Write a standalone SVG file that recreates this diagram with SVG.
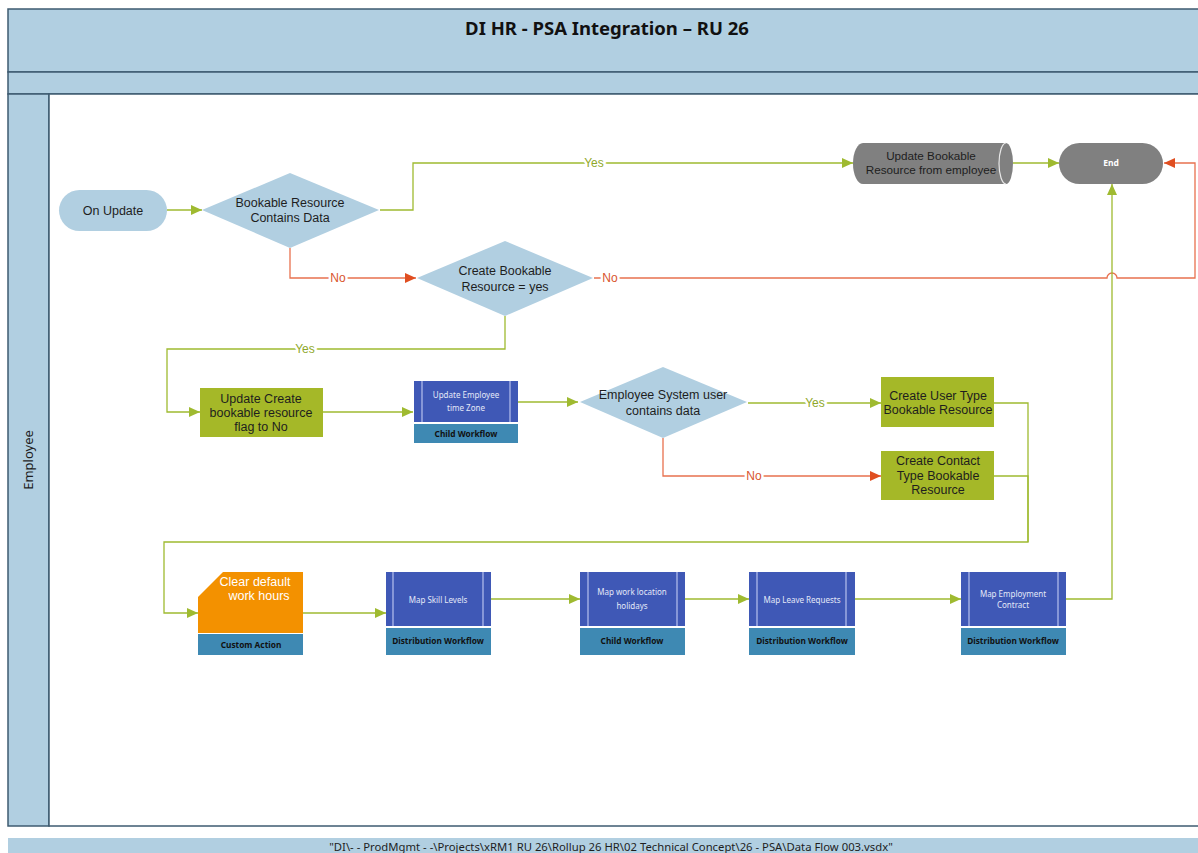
<svg xmlns="http://www.w3.org/2000/svg" width="1198" height="853" viewBox="0 0 1198 853">
<style>
.band{fill:#b1cfe1;stroke:#3e5b70;stroke-width:1.5}
.t{font-family:"Liberation Sans",Arial,sans-serif;font-size:12.5px;fill:#1e1e1e;text-anchor:middle}
.ts{font-family:"Noto Sans","Open Sans",sans-serif;font-size:8px;fill:#e4e8f8;text-anchor:middle}
.tl{font-family:"Noto Sans","Open Sans",sans-serif;font-size:8.3px;font-weight:bold;fill:#111;text-anchor:middle}
.lb{fill:#b1cfe1}
.grn{fill:#a5b828}
.wf{fill:#3f58b6}
.wfl{stroke:#b8c2ee;stroke-width:1.2}
.cap{fill:#3e89b3}
.cg{fill:none;stroke:#9fba30;stroke-width:1.3}
.cr{fill:none;stroke:#e8714f;stroke-width:1.3}
.lg{font-family:"Liberation Sans",Arial,sans-serif;font-size:12px;fill:#8fa82a;text-anchor:middle;paint-order:stroke;stroke:#fff;stroke-width:5px}
.lr{font-family:"Liberation Sans",Arial,sans-serif;font-size:12px;fill:#d9542c;text-anchor:middle;paint-order:stroke;stroke:#fff;stroke-width:5px}
</style>
<defs>
<marker id="ag" markerUnits="userSpaceOnUse" markerWidth="11" markerHeight="10" refX="11" refY="5" orient="auto"><path d="M0,0 L11,5 L0,10 z" fill="#9fba30"/></marker>
<marker id="ar" markerUnits="userSpaceOnUse" markerWidth="11" markerHeight="10" refX="11" refY="5" orient="auto"><path d="M0,0 L11,5 L0,10 z" fill="#e04e20"/></marker>
</defs>

<!-- pool / bands -->
<g id="pool">
<rect class="band" x="8" y="9" width="1196" height="63"/>
<rect class="band" x="8" y="72" width="1196" height="22"/>
<rect class="band" x="8" y="94" width="41" height="732"/>
<rect x="49" y="94" width="1155" height="732" fill="#fff" stroke="#3e5b70" stroke-width="1.5"/>
<rect x="8" y="838" width="1196" height="20" fill="#b1cfe1"/>
<text x="607" y="35" font-family="'Noto Sans','Open Sans',sans-serif" font-size="18.5px" font-weight="bold" fill="#111" text-anchor="middle">DI HR - PSA Integration – RU 26</text>
<text transform="translate(33,460) rotate(-90)" font-family="'Noto Sans','Open Sans',sans-serif" font-size="13px" fill="#1e1e1e" text-anchor="middle">Employee</text>
<text x="611" y="851" font-family="'Noto Sans','Open Sans',sans-serif" font-size="11.3px" fill="#1e1e1e" text-anchor="middle">"DI\- - ProdMgmt - -\Projects\xRM1 RU 26\Rollup 26 HR\02 Technical Concept\26 - PSA\Data Flow 003.vsdx"</text>
</g>

<!-- connectors -->
<g id="connectors">
<path class="cg" d="M167 210 H202" marker-end="url(#ag)"/>
<path class="cg" d="M380 210 H413 V163 H853" marker-end="url(#ag)"/>
<path class="cg" d="M1013 163 H1059" marker-end="url(#ag)"/>
<path class="cr" d="M290 248 V278 H416" marker-end="url(#ar)"/>
<path class="cr" d="M594 278 H1107 A5 5 0 0 1 1117 278 H1195 V163 H1164" marker-end="url(#ar)"/>
<path class="cg" d="M505 316 V349 H167 V412 H200" marker-end="url(#ag)"/>
<path class="cg" d="M323 412 H413" marker-end="url(#ag)"/>
<path class="cg" d="M518 402 H578" marker-end="url(#ag)"/>
<path class="cg" d="M748 403 H881" marker-end="url(#ag)"/>
<path class="cr" d="M663 438 V476 H881" marker-end="url(#ar)"/>
<path class="cg" d="M994 403 H1028 V542"/>
<path class="cg" d="M994 476 H1028 V542 H164 V613 H198" marker-end="url(#ag)"/>
<path class="cg" d="M303 613 H386" marker-end="url(#ag)"/>
<path class="cg" d="M491 599 H580" marker-end="url(#ag)"/>
<path class="cg" d="M685 599 H749" marker-end="url(#ag)"/>
<path class="cg" d="M855 599 H961" marker-end="url(#ag)"/>
<path class="cg" d="M1066 599 H1112 V184" marker-end="url(#ag)"/>
<text class="lg" x="594" y="167">Yes</text>
<text class="lr" x="338" y="282">No</text>
<text class="lr" x="610" y="282">No</text>
<text class="lg" x="305" y="353">Yes</text>
<text class="lg" x="815" y="407">Yes</text>
<text class="lr" x="754" y="480">No</text>
</g>

<g id="on-update">
<rect class="lb" x="59" y="190" width="108" height="41" rx="20.5"/>
<text class="t" x="113" y="215">On Update</text>
</g>

<g id="d-contains">
<polygon class="lb" points="202,210 290,173 379,210 290,248"/>
<text class="t" x="290" y="207">Bookable Resource</text>
<text class="t" x="290" y="222">Contains Data</text>
</g>

<g id="d-create">
<polygon class="lb" points="417,278 505,241 593,278 505,316"/>
<text class="t" x="505" y="275">Create Bookable</text>
<text class="t" x="505" y="291">Resource = yes</text>
</g>

<g id="update-br">
<path d="M863 143 H1006 A7 20.5 0 0 1 1006 184 H863 A10 20.5 0 0 1 863 143 Z" fill="#808080"/>
<path d="M1006 143 A7 20.5 0 0 0 1006 184" fill="none" stroke="#e8e8e8" stroke-width="1.2"/>
<text class="t" x="931" y="160" style="font-size:11.7px">Update Bookable</text>
<text class="t" x="931" y="174" style="font-size:11.7px">Resource from employee</text>
</g>

<g id="end">
<rect x="1059" y="143" width="104" height="41" rx="20.5" fill="#808080"/>
<text x="1111" y="166" font-family="'Noto Sans','Open Sans',sans-serif" font-size="8.5px" font-weight="bold" fill="#fff" text-anchor="middle">End</text>
</g>

<g id="update-flag">
<rect class="grn" x="200" y="388" width="123" height="49"/>
<text class="t" x="261" y="403">Update Create</text>
<text class="t" x="261" y="417">bookable resource</text>
<text class="t" x="261" y="431">flag to No</text>
</g>

<g id="update-tz">
<rect class="wf" x="414" y="381" width="104" height="41"/>
<line class="wfl" x1="422" y1="381" x2="422" y2="422"/>
<line class="wfl" x1="510" y1="381" x2="510" y2="422"/>
<rect class="cap" x="414" y="424" width="104" height="19"/>
<text class="ts" x="466" y="398">Update Employee</text>
<text class="ts" x="466" y="411">time Zone</text>
<text class="tl" x="466" y="437">Child Workflow</text>
</g>

<g id="d-sysuser">
<polygon class="lb" points="580,402 663,367 747,402 663,438"/>
<text class="t" x="663" y="399">Employee System user</text>
<text class="t" x="663" y="415">contains data</text>
</g>

<g id="create-user">
<rect class="grn" x="881" y="377" width="113" height="50"/>
<text class="t" x="938" y="400">Create User Type</text>
<text class="t" x="938" y="414">Bookable Resource</text>
</g>

<g id="create-contact">
<rect class="grn" x="881" y="451" width="113" height="49"/>
<text class="t" x="938" y="465">Create Contact</text>
<text class="t" x="938" y="480">Type Bookable</text>
<text class="t" x="938" y="494">Resource</text>
</g>

<g id="clear-hours">
<path d="M223 572 H303 V633 H198 V597 Z" fill="#f39100"/>
<rect class="cap" x="198" y="634" width="105" height="21"/>
<text x="255" y="586" font-family="'Liberation Sans',Arial,sans-serif" font-size="12.5px" fill="#fff" text-anchor="middle">Clear default</text>
<text x="259" y="600" font-family="'Liberation Sans',Arial,sans-serif" font-size="12.5px" fill="#fff" text-anchor="middle">work hours</text>
<text class="tl" x="251" y="648">Custom Action</text>
</g>

<g id="map-skill">
<rect class="wf" x="386" y="572" width="105" height="54"/>
<line class="wfl" x1="393" y1="572" x2="393" y2="626"/>
<line class="wfl" x1="483" y1="572" x2="483" y2="626"/>
<rect class="cap" x="386" y="628" width="105" height="27"/>
<text class="ts" x="438" y="603">Map Skill Levels</text>
<text class="tl" x="438" y="644">Distribution Workflow</text>
</g>

<g id="map-holidays">
<rect class="wf" x="580" y="572" width="105" height="54"/>
<line class="wfl" x1="588" y1="572" x2="588" y2="626"/>
<line class="wfl" x1="677" y1="572" x2="677" y2="626"/>
<rect class="cap" x="580" y="628" width="105" height="27"/>
<text class="ts" x="632" y="595">Map work location</text>
<text class="ts" x="632" y="609">holidays</text>
<text class="tl" x="632" y="644">Child Workflow</text>
</g>

<g id="map-leave">
<rect class="wf" x="749" y="572" width="106" height="54"/>
<line class="wfl" x1="757" y1="572" x2="757" y2="626"/>
<line class="wfl" x1="846" y1="572" x2="846" y2="626"/>
<rect class="cap" x="749" y="628" width="106" height="27"/>
<text class="ts" x="802" y="603">Map Leave Requests</text>
<text class="tl" x="802" y="644">Distribution Workflow</text>
</g>

<g id="map-contract">
<rect class="wf" x="961" y="572" width="105" height="54"/>
<line class="wfl" x1="969" y1="572" x2="969" y2="626"/>
<line class="wfl" x1="1058" y1="572" x2="1058" y2="626"/>
<rect class="cap" x="961" y="628" width="105" height="27"/>
<text class="ts" x="1013" y="597">Map Employment</text>
<text class="ts" x="1013" y="608">Contract</text>
<text class="tl" x="1013" y="644">Distribution Workflow</text>
</g>
</svg>
